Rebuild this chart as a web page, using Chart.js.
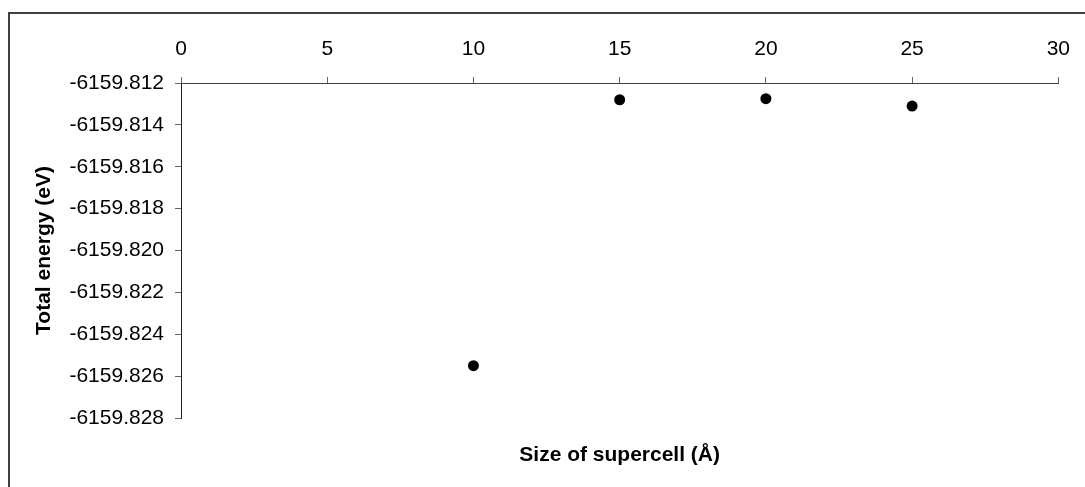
<!DOCTYPE html>
<html>
<head>
<meta charset="utf-8">
<script src="https://cdn.jsdelivr.net/npm/chart.js@4/dist/chart.umd.min.js"></script>
<style>
  html, body { margin: 0; padding: 0; background: #fff; }
  #wrap { position: relative; width: 1085px; height: 487px; overflow: hidden; }
  #frame { position: absolute; left: 8px; top: 12px; width: 1200px; height: 600px; border: 2px solid #404040; }
  #box { position: absolute; left: 0; top: 0; width: 1085px; height: 487px; }
</style>
</head>
<body>
<div id="wrap">
  <div id="frame"></div>
  <div id="box"><canvas id="energyChart"></canvas></div>
</div>
<script>
// данные
const cellSizes = [10, 15, 20, 25];
const totalEnergy = [-6159.8255, -6159.8128, -6159.81275, -6159.8131];
const xTicks = [0, 5, 10, 15, 20, 25, 30];
const yTicks = [-6159.812, -6159.814, -6159.816, -6159.818, -6159.820, -6159.822, -6159.824, -6159.826, -6159.828];

const points = cellSizes.map((x, i) => ({ x, y: totalEnergy[i] }));
const tickFont = { family: "'Liberation Sans', Arial, sans-serif", size: 21 };
const titleFont = { family: "'Liberation Sans', Arial, sans-serif", size: 21, weight: "bold" };

new Chart(document.getElementById("energyChart"), {
  type: "scatter",
  data: {
    datasets: [{
      data: points,
      backgroundColor: "#000",
      borderWidth: 0,
      pointRadius: 5.5,
      pointHoverRadius: 5.5
    }]
  },
  options: {
    responsive: true,
    maintainAspectRatio: false,
    animation: false,
    layout: { padding: { left: 0, right: 19, top: 0, bottom: 0 } },
    plugins: { legend: { display: false }, tooltip: { enabled: false } },
    scales: {
      x: {
        type: "linear",
        position: "top",
        min: 0,
        max: 30,
        afterBuildTicks: (s) => { s.ticks = xTicks.map(v => ({ value: v })); },
        afterFit: (s) => { s.height = 83; },
        grid: { drawOnChartArea: false, tickLength: 6, color: "#666" },
        border: { color: "#404040", width: 1 },
        ticks: { font: tickFont, color: "#000", padding: 15, maxRotation: 0 }
      },
      x2: {
        type: "linear",
        position: "bottom",
        afterFit: (s) => { s.height = 69; },
        grid: { display: false },
        border: { display: false },
        ticks: { display: false },
        title: { display: true, text: "Size of supercell (Å)", font: titleFont, color: "#000", padding: { top: 0, bottom: 19 } }
      },
      y: {
        type: "linear",
        min: -6159.828,
        max: -6159.812,
        afterBuildTicks: (s) => { s.ticks = yTicks.map(v => ({ value: v })); },
        afterFit: (s) => { s.width = 181; },
        grid: { drawOnChartArea: false, tickLength: 6, color: "#666" },
        border: { color: "#222", width: 1 },
        ticks: { font: tickFont, color: "#000", padding: 11, callback: (v) => v.toFixed(3) },
        title: { display: true, text: "Total energy (eV)", font: titleFont, color: "#000", padding: { top: 32, bottom: 0 } }
      }
    }
  }
});
</script>
</body>
</html>
